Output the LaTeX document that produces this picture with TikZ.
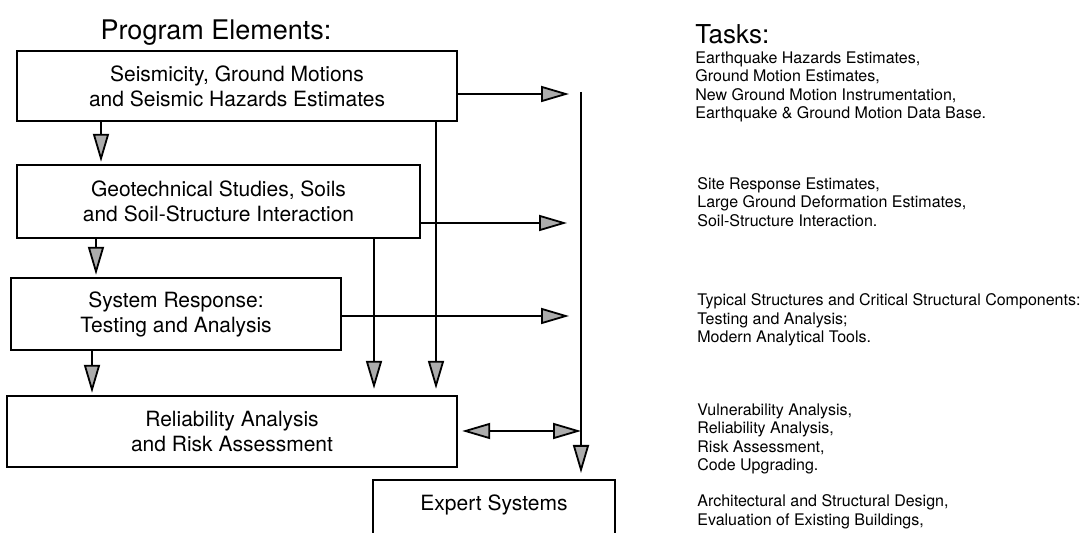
\documentclass[tikz,border=0pt]{standalone}
\usepackage{fontspec}
\setmainfont{TeX Gyre Heros}
\usetikzlibrary{arrows.meta,positioning,calc}
\tikzset{>=latex}
\tikzset{
	elembox/.style={draw, line width=1.2pt, align=center, font=\fontsize{10.5}{12.5}\selectfont},
	tasktext/.style={anchor=west, align=left, inner sep=0pt, font=\fontsize{8}{9.3}\selectfont},
	arr/.style={draw, line width=0.9pt, -{Triangle[length=14pt,width=8pt,fill=gray!65]}},
	dblarr/.style={draw, line width=0.9pt, {Triangle[length=14pt,width=8pt,fill=gray!65]}-{Triangle[length=14pt,width=8pt,fill=gray!65]}}
}

\begin{document}
\begin{tikzpicture}[x=0.5pt,y=-0.5pt]
		\clip (0,0) rectangle (1091,533);
		% headings
		\node[font=\fontsize{13.5}{16}\selectfont] (progtitle) at (216,33) {Program Elements:};
		\node[anchor=west, inner sep=0pt, font=\fontsize{13}{16}\selectfont] (tasktitle) at (695,34) {Tasks:};
		% program elements
		\node[elembox, minimum width=220pt, minimum height=35pt] (seis) at (237,86) {Seismicity, Ground Motions\\and Seismic Hazards Estimates};
		\node[elembox, minimum width=201.5pt, minimum height=36.5pt] (geo) at (218.5,201.5) {Geotechnical Studies, Soils\\and Soil-Structure Interaction};
		\node[elembox, minimum width=165pt, minimum height=36pt] (resp) at (176,314) {System Response:\\Testing and Analysis};
		\node[elembox, minimum width=225pt, minimum height=35.5pt] (rel) at (232,431.5) {Reliability Analysis\\and Risk Assessment};
		\node[elembox, anchor=north, minimum width=121pt, inner ysep=7.5pt, text depth=40pt] (expert) at (494,479) {Expert Systems};
		% tasks
		\node[tasktext] (task1) at (695,87) {Earthquake Hazards Estimates,\\Ground Motion Estimates,\\New Ground Motion Instrumentation,\\Earthquake \& Ground Motion Data Base.};
		\node[tasktext] (task2) at (697,202) {Site Response Estimates,\\Large Ground Deformation Estimates,\\Soil-Structure Interaction.};
		\node[tasktext] (task3) at (697,320) {Typical Structures and Critical Structural Components:\\Testing and Analysis;\\Modern Analytical Tools.};
		\node[tasktext] (task4) at (697,439) {Vulnerability Analysis,\\Reliability Analysis,\\Risk Assessment,\\Code Upgrading.};
		\node[tasktext] (task5) at (697,512) {Architectural and Structural Design,\\Evaluation of Existing Buildings,};
		% bus on the right
		\coordinate (bus1) at (581,94);
		\coordinate (bus2) at (581,223);
		\coordinate (bus3) at (581,316);
		\coordinate (bus4) at (581,431);
		\coordinate (dropA) at (436,0);
		\coordinate (dropB) at (374,0);
		\draw[arr, shorten >=3pt] (seis.east |- bus1) -- ([xshift=-3pt]bus1);
		\draw[arr, shorten >=4pt] (geo.east |- bus2) -- ([xshift=-3pt]bus2);
		\draw[arr, shorten >=3pt] (resp.east |- bus3) -- ([xshift=-3pt]bus3);
		\draw[dblarr, shorten <=2pt] (rel.east |- bus4) -- (bus4);
		\draw[arr, shorten >=3pt] ([yshift=1pt]bus1) -- (bus1 |- expert.north);
		% downward links
		\draw[arr, shorten >=1pt] (seis.south -| 101,0) -- (geo.north -| 101,0);
		\draw[arr, shorten >=1pt] (geo.south -| 96,0) -- (resp.north -| 96,0);
		\draw[arr, shorten >=1pt] (resp.south -| 92,0) -- (rel.north -| 92,0);
		\draw[arr, shorten >=3pt] (seis.south -| dropA) -- (rel.north -| dropA);
		\draw[arr, shorten >=3pt] (geo.south -| dropB) -- (rel.north -| dropB);
	\end{tikzpicture}
\end{document}
